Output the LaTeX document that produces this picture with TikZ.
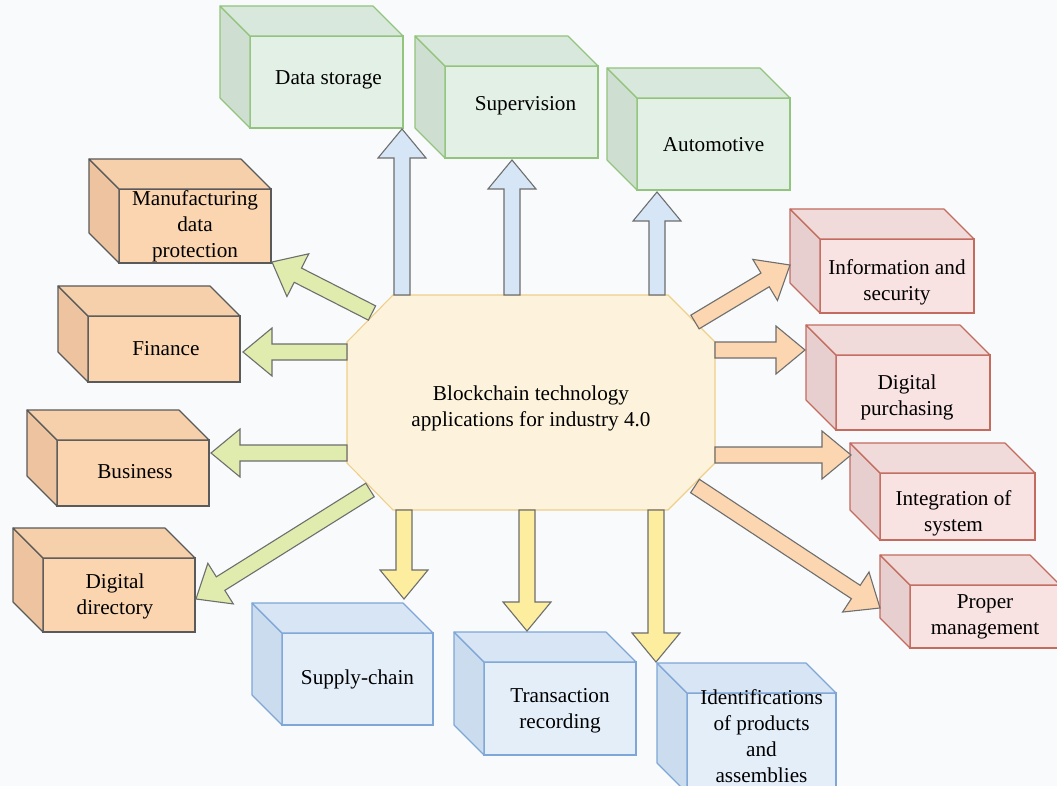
\documentclass[tikz,border=0pt]{standalone}
\usepackage{fontspec}
\setmainfont{Liberation Serif}
\usetikzlibrary{calc}
\definecolor{bg}{HTML}{F8FAFC}
\definecolor{greenline}{HTML}{93C47D}\definecolor{greenfront}{HTML}{E3F0E6}\definecolor{greenside}{HTML}{CEDFD2}\definecolor{greentop}{HTML}{D9E8DC}
\definecolor{orangeline}{HTML}{5A5A5A}\definecolor{orangefront}{HTML}{FBD5B0}\definecolor{orangeside}{HTML}{EEC3A0}\definecolor{orangetop}{HTML}{F6CFAB}
\definecolor{pinkline}{HTML}{C26B5E}\definecolor{pinkfront}{HTML}{F9E2E2}\definecolor{pinkside}{HTML}{E8CFCF}\definecolor{pinktop}{HTML}{F0DADA}
\definecolor{blueline}{HTML}{7EA6D6}\definecolor{bluefront}{HTML}{E4EEF9}\definecolor{blueside}{HTML}{CCDCEF}\definecolor{bluetop}{HTML}{D8E5F4}
\definecolor{arrline}{HTML}{6E6E6E}
\definecolor{arrblue}{HTML}{D6E6F7}\definecolor{arrgreen}{HTML}{DFECAD}\definecolor{arrorange}{HTML}{FBD6B0}\definecolor{arryellow}{HTML}{FCEE9E}
\definecolor{hubfill}{HTML}{FDF3DC}\definecolor{hubline}{HTML}{EFCF8A}
\tikzset{
  txt/.style={font=\fontsize{21.2}{26}\selectfont, align=center, inner sep=0pt},
  frontface/.style={draw, line width=1.1pt, inner sep=0pt, outer sep=0pt, anchor=north west},
  face/.style={line width=1.1pt, line join=round},
  barr/.style={draw=arrline, line width=1.1pt, line join=miter, fill=#1},
}
% #1 text options, #2 name, #3 x, #4 y, #5 w, #6 h, #7 scheme, #8 text
\newcommand\cubebox[8][]{%
  \node[frontface, draw=#7line, fill=#7front, minimum width=#5pt, minimum height=#6pt] (#2) at (#3,#4) {};
  \draw[face, draw=#7line, fill=#7side] (#2.north west) -- ++(-30,-30) -- ($(#2.south west)+(-30,-30)$) -- (#2.south west) -- cycle;
  \draw[face, draw=#7line, fill=#7top] (#2.north west) -- ++(-30,-30) -- ($(#2.north east)+(-30,-30)$) -- (#2.north east) -- cycle;
  \node[txt, #1] (#2t) at (#2.center) {#8};
}
\newcommand\blockarrow[3]{%
  \draw[barr=#1] let \p1=($(#3)-(#2)$), \n1={atan2(\y1,\x1)}, \n2={veclen(\x1,\y1)} in
    ($(#2)+(\n1+90:8pt)$) -- ($(#2)+(\n1:{\n2-29pt})+(\n1+90:8pt)$) -- ($(#2)+(\n1:{\n2-29pt})+(\n1+90:24pt)$) -- (#3)
    -- ($(#2)+(\n1:{\n2-29pt})+(\n1-90:24pt)$) -- ($(#2)+(\n1:{\n2-29pt})+(\n1-90:8pt)$) -- ($(#2)+(\n1-90:8pt)$) -- cycle;
}
\begin{document}
\begin{tikzpicture}[x=1pt,y=-1pt]
\useasboundingbox (0,0) rectangle (1057,786);
\fill[bg] (0,0) rectangle (1057,786);
% boxes
\cubebox[xshift=2pt,yshift=2pt]{ds}{250}{36}{153}{92}{green}{Data storage}
\cubebox[xshift=4pt,yshift=6pt]{sup}{445}{66}{153}{92}{green}{Supervision}
\cubebox[yshift=-1pt]{auto}{637}{98}{153}{92}{green}{Automotive}
\cubebox{mfg}{119}{189}{152}{74}{orange}{Manufacturing\\data\\protection}
\cubebox[xshift=2pt]{fin}{88}{316}{152}{66}{orange}{Finance}
\cubebox[xshift=2pt,yshift=1pt]{bus}{57}{440}{152}{66}{orange}{Business}
\cubebox[xshift=-4pt,yshift=-1pt]{dir}{43}{558}{152}{74}{orange}{Digital\\directory}
\cubebox[yshift=-6pt]{info}{820}{239}{154}{74}{pink}{Information and\\security}
\cubebox[xshift=-6pt,yshift=-5pt]{pur}{836}{355}{154}{75}{pink}{Digital\\purchasing}
\cubebox[xshift=-4pt,yshift=-7pt]{int}{880}{473}{155}{67}{pink}{Integration of\\system}
\cubebox{prop}{910}{585}{150}{63}{pink}{Proper\\management}
\cubebox{sc}{282}{633}{151}{92}{blue}{Supply-chain}
\cubebox[yshift=-2pt]{tr}{484}{662}{152}{93}{blue}{Transaction\\recording}
\cubebox[yshift=7pt]{id}{687}{693}{149}{100}{blue}{Identifications\\of products\\and\\assemblies}
% hub
\draw[fill=hubfill, draw=hubline, line width=1.1pt] (393,295) -- (668,295) -- (715,342) -- (715,463) -- (668,510) -- (393,510) -- (347,463) -- (347,342) -- cycle;
\node[txt] (hub) at (531,408) {Blockchain technology\\applications for industry 4.0};
% arrow end points
\coordinate (u1s) at (402,295); \coordinate (u1e) at (402,129);
\coordinate (u2s) at (512,295); \coordinate (u2e) at (512,160);
\coordinate (u3s) at (657,295); \coordinate (u3e) at (657,192);
\coordinate (l1s) at (372,313); \coordinate (l1e) at (272,262);
\coordinate (l2s) at (347,352); \coordinate (l2e) at (243,352);
\coordinate (l3s) at (347,453); \coordinate (l3e) at (211,453);
\coordinate (l4s) at (370,490); \coordinate (l4e) at (196,599);
\coordinate (r1s) at (695,322); \coordinate (r1e) at (790,265);
\coordinate (r2s) at (715,350); \coordinate (r2e) at (805,350);
\coordinate (r3s) at (715,455); \coordinate (r3e) at (851,455);
\coordinate (r4s) at (695,486); \coordinate (r4e) at (880,608);
\coordinate (d1s) at (404,510); \coordinate (d1e) at (404,599);
\coordinate (d2s) at (527,510); \coordinate (d2e) at (527,631);
\coordinate (d3s) at (656,510); \coordinate (d3e) at (656,662);
\blockarrow{arrblue}{u1s}{u1e}
\blockarrow{arrblue}{u2s}{u2e}
\blockarrow{arrblue}{u3s}{u3e}
\blockarrow{arrgreen}{l1s}{l1e}
\blockarrow{arrgreen}{l2s}{l2e}
\blockarrow{arrgreen}{l3s}{l3e}
\blockarrow{arrgreen}{l4s}{l4e}
\blockarrow{arrorange}{r1s}{r1e}
\blockarrow{arrorange}{r2s}{r2e}
\blockarrow{arrorange}{r3s}{r3e}
\blockarrow{arrorange}{r4s}{r4e}
\blockarrow{arryellow}{d1s}{d1e}
\blockarrow{arryellow}{d2s}{d2e}
\blockarrow{arryellow}{d3s}{d3e}
\end{tikzpicture}
\end{document}
